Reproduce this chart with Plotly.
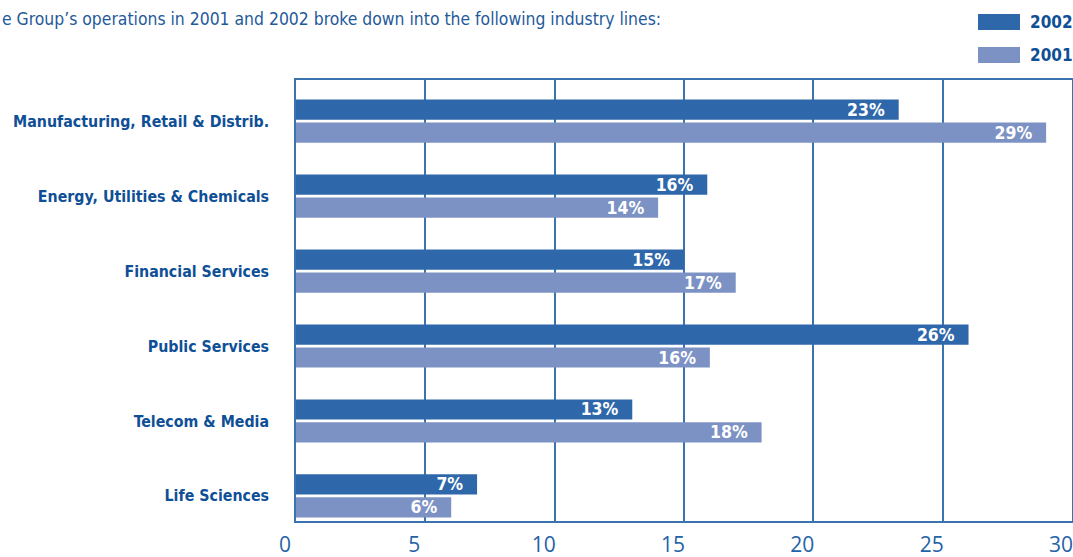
import plotly.graph_objects as go

categories = ["Manufacturing, Retail & Distrib.", "Energy, Utilities & Chemicals",
              "Financial Services", "Public Services", "Telecom & Media", "Life Sciences"]
values_2002 = [23.3, 15.9, 15.0, 26.0, 13.0, 7.0]
values_2001 = [29.0, 14.0, 17.0, 16.0, 18.0, 6.0]
labels_2002 = ["23%", "16%", "15%", "26%", "13%", "7%"]
labels_2001 = ["29%", "14%", "17%", "16%", "18%", "6%"]
x_ticks = [0, 5, 10, 15, 20, 25, 30]

DARK = "#2f68aa"
LIGHT = "#7d92c4"
TEXT = "#0f4f96"
GRID = "#3a73ad"
COND = "DejaVu Sans Condensed, DejaVu Sans, sans-serif"
pad = "\u00a0\u00a0"

W, H = 1073, 557
L, T, B, R = 296, 80, 36, 1
PW, PH = W - L - R, H - T - B


def px(x):  # page x -> paper x
    return (x - L) / PW


def py(y):  # page y -> paper y
    return 1 - (y - T) / PH


fig = go.Figure()
for name, vals, labs, col in [("2002", values_2002, labels_2002, DARK),
                              ("2001", values_2001, labels_2001, LIGHT)]:
    fig.add_trace(go.Bar(
        y=categories, x=vals, orientation="h", name=name,
        marker=dict(color=col, line=dict(width=0)),
        text=[l + pad for l in labs], textposition="inside", insidetextanchor="end",
        textfont=dict(color="white", size=17.5, family=COND, weight="bold"),
        constraintext="none", cliponaxis=False, showlegend=False,
    ))

fig.update_layout(
    width=W, height=H,
    margin=dict(l=L, r=R, t=T, b=B, autoexpand=False),
    paper_bgcolor="white", plot_bgcolor="white",
    barmode="group", bargap=0.387, bargroupgap=0.12,
    xaxis=dict(range=[0, 30], tickvals=x_ticks, showgrid=True, gridcolor=GRID, gridwidth=1.5,
               showline=True, linecolor=GRID, linewidth=1.5, mirror=True, zeroline=False,
               ticks="", ticklabelshift=-11, ticklabelstandoff=4, automargin=False,
               ticklabeloverflow="allow",
               tickfont=dict(size=21, color="#2463a6", family="Open Sans, sans-serif")),
    yaxis=dict(type="category", categoryorder="array", categoryarray=categories,
               range=[5.334, -0.548], showgrid=False, showline=True, linecolor=GRID,
               linewidth=1.5, mirror=True, ticks="", ticklabelstandoff=22, automargin=False,
               tickfont=dict(size=15.8, color=TEXT, family=COND, weight="bold")),
    font=dict(family=COND),
)

# Subtitle (starts cut off at the left edge, as in the source)
fig.add_annotation(xref="paper", yref="paper", x=px(0), y=py(19),
                   xanchor="left", yanchor="middle", showarrow=False,
                   text="e Group\u2019s operations in 2001 and 2002 broke down into the following industry lines:",
                   font=dict(size=17.4, color="#1f5a9a", family=COND))

# Manual legend
for i, (name, col) in enumerate([("2002", DARK), ("2001", LIGHT)]):
    yc = 22 + i * 33
    fig.add_shape(type="rect", xref="paper", yref="paper",
                  x0=px(978), x1=px(1020), y0=py(yc + 8), y1=py(yc - 8),
                  fillcolor=col, line=dict(width=0))
    fig.add_annotation(xref="paper", yref="paper", x=px(1028), y=py(yc),
                       xanchor="left", yanchor="middle", showarrow=False, text=name,
                       font=dict(size=17, color=TEXT, family=COND, weight="bold"))

fig.write_html("out.html", config={"displayModeBar": False},
               post_script="document.body.style.margin='0';document.body.style.overflow='hidden';")
